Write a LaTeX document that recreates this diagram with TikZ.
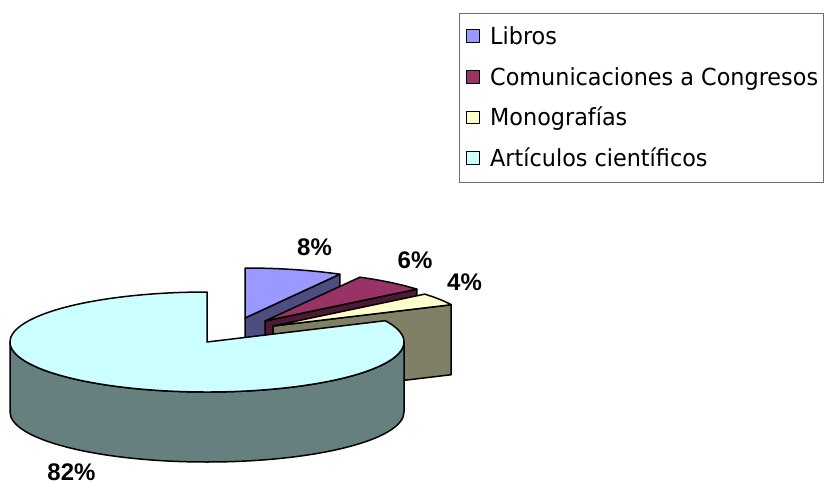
\documentclass[tikz,border=0pt]{standalone}
\usepackage{fontspec}
\usetikzlibrary{calc}
\newfontfamily\legfont{DejaVu Sans}[FakeStretch=0.95]
\newfontfamily\pctfont{Liberation Sans}
\definecolor{libtop}{RGB}{153,153,255}
\definecolor{libside}{RGB}{77,77,128}
\definecolor{comtop}{RGB}{153,51,102}
\definecolor{comside}{RGB}{77,26,51}
\definecolor{montop}{RGB}{255,255,204}
\definecolor{monside}{RGB}{128,128,102}
\definecolor{arttop}{RGB}{204,255,255}
\definecolor{artside}{RGB}{102,128,128}
\definecolor{legborder}{RGB}{110,110,110}
\begin{document}
\begin{tikzpicture}[x=1pt,y=-1pt,
  face/.style={draw=black,line width=1.5pt,line join=round},
  legsq/.style={draw=black,line width=1.3pt,minimum size=12.5pt,inner sep=0pt},
  legtext/.style={font=\legfont\fontsize{23.5}{26}\selectfont,anchor=base west,inner sep=0pt},
  pct/.style={font=\pctfont\bfseries\fontsize{24}{28}\selectfont,anchor=base,inner sep=0pt},
  ell/.style={x radius=197,y radius=50}]
\useasboundingbox (0,0) rectangle (824,484);
% legend
\node[draw=legborder,line width=1pt,minimum width=364pt,minimum height=169pt,anchor=north west,inner sep=0pt] (leg) at (459,13) {};
\node[legsq,fill=libtop] (s1) at (473,36) {};
\node[legsq,fill=comtop] (s2) at (473,77) {};
\node[legsq,fill=montop] (s3) at (473,117.5) {};
\node[legsq,fill=arttop] (s4) at (473,158) {};
\node[legtext] (t1) at (490,44.5) {Libros};
\node[legtext] (t2) at (490,85.5) {Comunicaciones a Congresos};
\node[legtext] (t3) at (490,126) {Monografías};
\node[legtext] (t4) at (490,166.5) {Artículos científicos};
% pie
\coordinate (C) at (207,342);
\coordinate (L) at (245,318);
\coordinate (M) at (265,321);
\coordinate (Y) at (273,326);
% Libros
\path[face,fill=libside] (L) -- ++(-61.2:197 and 50) -- ++(0,70) -- ($(L)+(0,70)$) -- cycle;
\path[face,fill=libtop] (L) -- ++(-90:197 and 50) arc[start angle=-90,end angle=-61.2,ell] -- cycle;
% Comunicaciones
\path[face,fill=comside] (M) -- ++(-39.6:197 and 50) -- ++(0,70) -- ($(M)+(0,70)$) -- cycle;
\path[face,fill=comtop] (M) -- ++(-61.2:197 and 50) arc[start angle=-61.2,end angle=-39.6,ell] -- cycle;
% Monografias
\path[face,fill=monside] (Y) -- ++(-25.2:197 and 50) -- ++(0,70) -- ($(Y)+(0,70)$) -- cycle;
\path[face,fill=montop] (Y) -- ++(-39.6:197 and 50) arc[start angle=-39.6,end angle=-25.2,ell] -- cycle;
% Articulos
\path[face,fill=artside] ($(C)+(0:197 and 50)$) arc[start angle=0,end angle=180,ell] -- ++(0,70) arc[start angle=180,end angle=0,ell] -- cycle;
\path[face,fill=arttop] (C) -- ++(-25.2:197 and 50) arc[start angle=-25.2,end angle=270,ell] -- cycle;
% labels
\node[pct] (p8) at (314.5,255) {8\%};
\node[pct] (p6) at (415,268) {6\%};
\node[pct] (p4) at (464.5,290) {4\%};
\node[pct] (p82) at (71.5,480.5) {82\%};
\end{tikzpicture}
\end{document}
